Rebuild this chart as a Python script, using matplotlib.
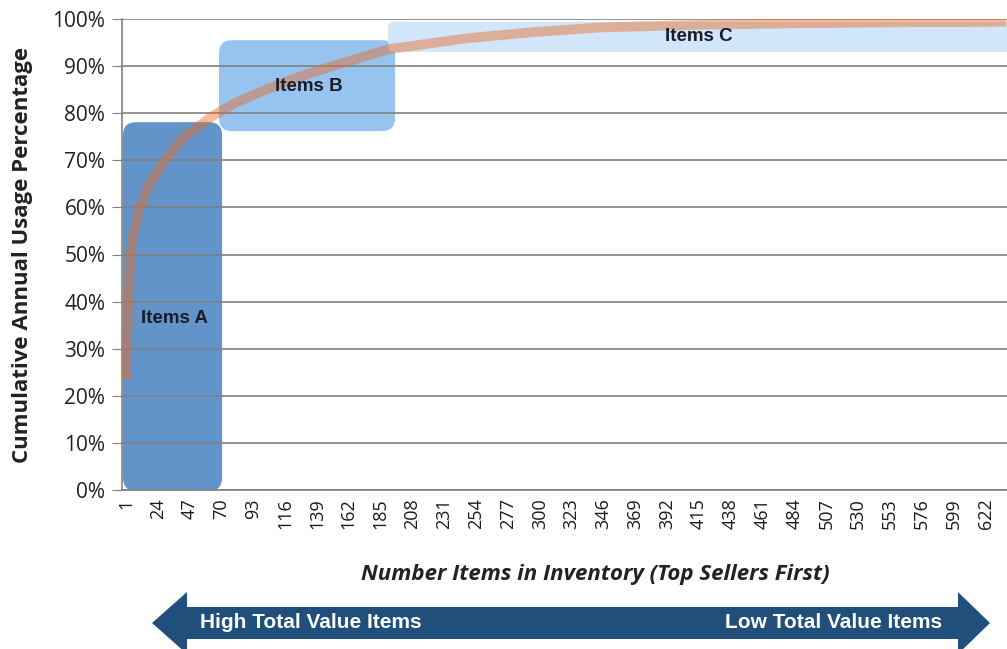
import matplotlib
matplotlib.use("Agg")
import matplotlib.pyplot as plt
from matplotlib.patches import FancyBboxPatch, Polygon
from matplotlib.ticker import FuncFormatter

# cumulative share of annual usage (item rank -> %)
item_rank = [1, 2, 3, 4, 6, 11, 18, 29, 43, 63, 80, 102, 125, 150, 191, 247, 295, 343, 420, 488, 560, 637]
cum_pct = [23.4, 33, 41, 49, 54, 60, 65, 70, 75, 79.3, 82.2, 85, 87.6, 90, 93.6, 95.9, 97.2, 98.2, 98.8, 99.1, 99.3, 99.4]

# ABC classes: rank range and usage band covered
class_names = ["Items A", "Items B", "Items C"]
class_first = [-1.2, 68.2, 190.3]
class_last = [70.4, 195.4, 660]
class_low = [-0.2, 76.2, 93.0]
class_high = [78.1, 95.5, 99.4]

x_ticks = list(range(1, 640, 23))
y_ticks = list(range(0, 101, 10))

W, H = 1007, 649
fig = plt.figure(figsize=(W / 100, H / 100), dpi=100)
ax = fig.add_axes([122 / W, 1 - 490 / H, (W - 122) / W, 471 / H])

ax.set_xlim(-1.9, 637.5)
ax.set_ylim(0, 100)

box_colors = ["#5a8ec6", "#92c0ef", "#cfe5fb"]
px_x = (W - 122) / 639.4
px_y = 471 / 100
for i in range(len(class_names)):
    r = 9.5 if i < 2 else 4
    box = FancyBboxPatch((class_first[i], class_low[i]),
                         class_last[i] - class_first[i], class_high[i] - class_low[i],
                         boxstyle="round,pad=0,rounding_size=%f" % r,
                         mutation_aspect=px_x / px_y,
                         facecolor=box_colors[i], edgecolor="none",
                         alpha=0.95, zorder=1)
    ax.add_patch(box)

ax.plot(item_rank, cum_pct, color="#e96a25", lw=7, alpha=0.45,
        solid_capstyle="butt", solid_joinstyle="round", zorder=3)

lab_pos = [(36, 36.5), (133, 85.6), (415, 96.2)]
for name, (lx, ly) in zip(class_names, lab_pos):
    ax.text(lx, ly, name, ha="center", va="center", fontsize=13.5,
            fontweight="bold", family="Liberation Sans", color="#1b1b28", zorder=4)

ax.set_axisbelow("line")
ax.yaxis.grid(True, color="#808080", lw=1.2)
ax.set_yticks(y_ticks)
ax.yaxis.set_major_formatter(FuncFormatter(lambda v, p: "%d%%" % v))
ax.set_xticks(x_ticks)
ax.set_xticklabels([str(t) for t in x_ticks], rotation=90)
for lab in ax.get_yticklabels():
    lab.set_family("Open Sans")
    lab.set_fontsize(15)
    lab.set_color("#222222")
for lab in ax.get_xticklabels():
    lab.set_family("Open Sans")
    lab.set_fontsize(13)
    lab.set_color("#1a1a1a")
ax.tick_params(axis="y", length=7, color="#808080", pad=5)
ax.tick_params(axis="x", length=0, pad=6)

for s in ["top", "right"]:
    ax.spines[s].set_visible(False)
ax.spines["left"].set_color("#808080")
ax.spines["bottom"].set_color("#808080")
ax.spines["left"].set_linewidth(1.2)
ax.spines["bottom"].set_linewidth(1.2)

ax.set_ylabel("Cumulative Annual Usage Percentage", family="Open Sans",
              fontweight="bold", fontsize=16, color="#222222")
ax.yaxis.set_label_coords(-0.1005, 0.5)
ax.set_xlabel("Number Items in Inventory (Top Sellers First)", family="Open Sans",
              fontweight="bold", style="italic", fontsize=16, color="#222222")
ax.xaxis.set_label_coords(0.5345, -0.158)

# double headed arrow under the axis
def fx(x):
    return x / W

def fy(y):
    return 1 - y / H

cy = 623
pts = [(152, cy), (187, 592), (187, 607), (958, 607), (958, 592), (990, cy),
       (958, 654), (958, 639), (187, 639), (187, 654)]
arrow = Polygon([(fx(x), fy(y)) for x, y in pts], closed=True,
                facecolor="#1f4f7a", edgecolor="none", transform=fig.transFigure)
fig.add_artist(arrow)
fig.text(fx(200), fy(cy), "High Total Value Items", ha="left", va="center",
         color="white", fontsize=15, fontweight="bold", family="Liberation Sans")
fig.text(fx(942), fy(cy), "Low Total Value Items", ha="right", va="center",
         color="white", fontsize=15, fontweight="bold", family="Liberation Sans")

fig.savefig("out.png", dpi=100)
